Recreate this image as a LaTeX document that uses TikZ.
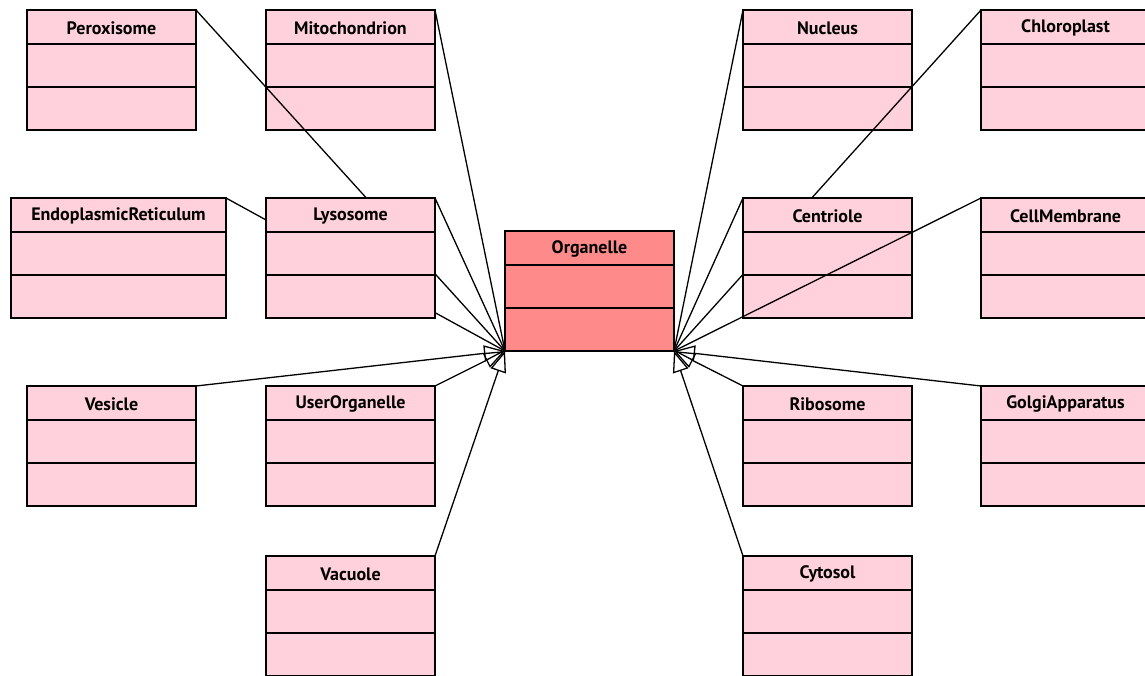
\documentclass[tikz,border=0pt]{standalone}
\usepackage{fontspec}
\setmainfont{PT Sans}
\usetikzlibrary{arrows.meta}

\definecolor{classfill}{HTML}{FFD1DC}
\definecolor{basefill}{HTML}{FF8A8A}

\tikzset{
  umlclass/.style={draw=black, line width=1.5pt, fill=classfill,
    minimum height=120pt, anchor=north west, inner sep=0pt, outer sep=0pt},
  divider/.style={line width=1.5pt},
  classtitle/.style={font=\fontsize{18}{21}\selectfont\bfseries, inner sep=0pt},
  generalize/.style={line width=1.3pt},
  genhead/.style={line width=1.3pt, -{Triangle[open, length=21pt, width=16pt]}},
}

% \classbox[fill]{name}{x,y}{width}{title}: a three-compartment class box
\newcommand\classbox[5][classfill]{%
  \node[umlclass, fill=#1, minimum width=#4] (#2) at (#3) {};
  \draw[divider] ([yshift=-34pt]#2.north west) -- ([yshift=-34pt]#2.north east);
  \draw[divider] ([yshift=-77pt]#2.north west) -- ([yshift=-77pt]#2.north east);
  \node[classtitle] (#2-title) at ([yshift=-18pt]#2.north) {#5};
}

\begin{document}
\begin{tikzpicture}[x=1pt, y=-1pt]
  \useasboundingbox (0,0) rectangle (1145,675);
  \clip (0,0) rectangle (1145,675);

  % boxes that lie below the crossing connectors
  \classbox{peroxisome}{27,10}{169pt}{Peroxisome}
  \classbox{mitochondrion}{266,10}{169pt}{Mitochondrion}
  \classbox{nucleus}{743,10}{169pt}{Nucleus}
  \classbox{chloroplast}{981,10}{169pt}{Chloroplast}
  \classbox{er}{11,198}{215pt}{EndoplasmicReticulum}
  \classbox{cellmembrane}{981,198}{169pt}{CellMembrane}
  \classbox[basefill]{organelle}{505,231}{169pt}{Organelle}
  \classbox{vesicle}{27,386}{169pt}{Vesicle}
  \classbox{userorganelle}{266,386}{169pt}{UserOrganelle}
  \classbox{vacuole}{266,556}{169pt}{Vacuole}
  \classbox{ribosome}{743,386}{169pt}{Ribosome}
  \classbox{golgi}{981,386}{169pt}{GolgiApparatus}
  \classbox{cytosol}{743,556}{169pt}{Cytosol}

  % connectors hidden behind Lysosome and Centriole
  \draw[generalize] (peroxisome.north east) -- (organelle.south west);
  \draw[generalize] (er.north east) -- (organelle.south west);
  \draw[generalize] (chloroplast.north west) -- (organelle.south east);

  \classbox{lysosome}{266,198}{169pt}{Lysosome}
  \classbox{centriole}{743,198}{169pt}{Centriole}

  % remaining generalizations to Organelle
  \draw[generalize] (mitochondrion.north east) -- (organelle.south west);
  \draw[generalize] (lysosome.north east) -- (organelle.south west);
  \draw[genhead] (vesicle.north east) -- (organelle.south west);
  \draw[genhead] (userorganelle.north east) -- (organelle.south west);
  \draw[genhead] (vacuole.north east) -- (organelle.south west);

  \draw[generalize] (nucleus.north west) -- (organelle.south east);
  \draw[generalize] (centriole.north west) -- (organelle.south east);
  \draw[generalize] (cellmembrane.north west) -- (organelle.south east);
  \draw[genhead] (ribosome.north west) -- (organelle.south east);
  \draw[genhead] (golgi.north west) -- (organelle.south east);
  \draw[genhead] (cytosol.north west) -- (organelle.south east);
\end{tikzpicture}
\end{document}
